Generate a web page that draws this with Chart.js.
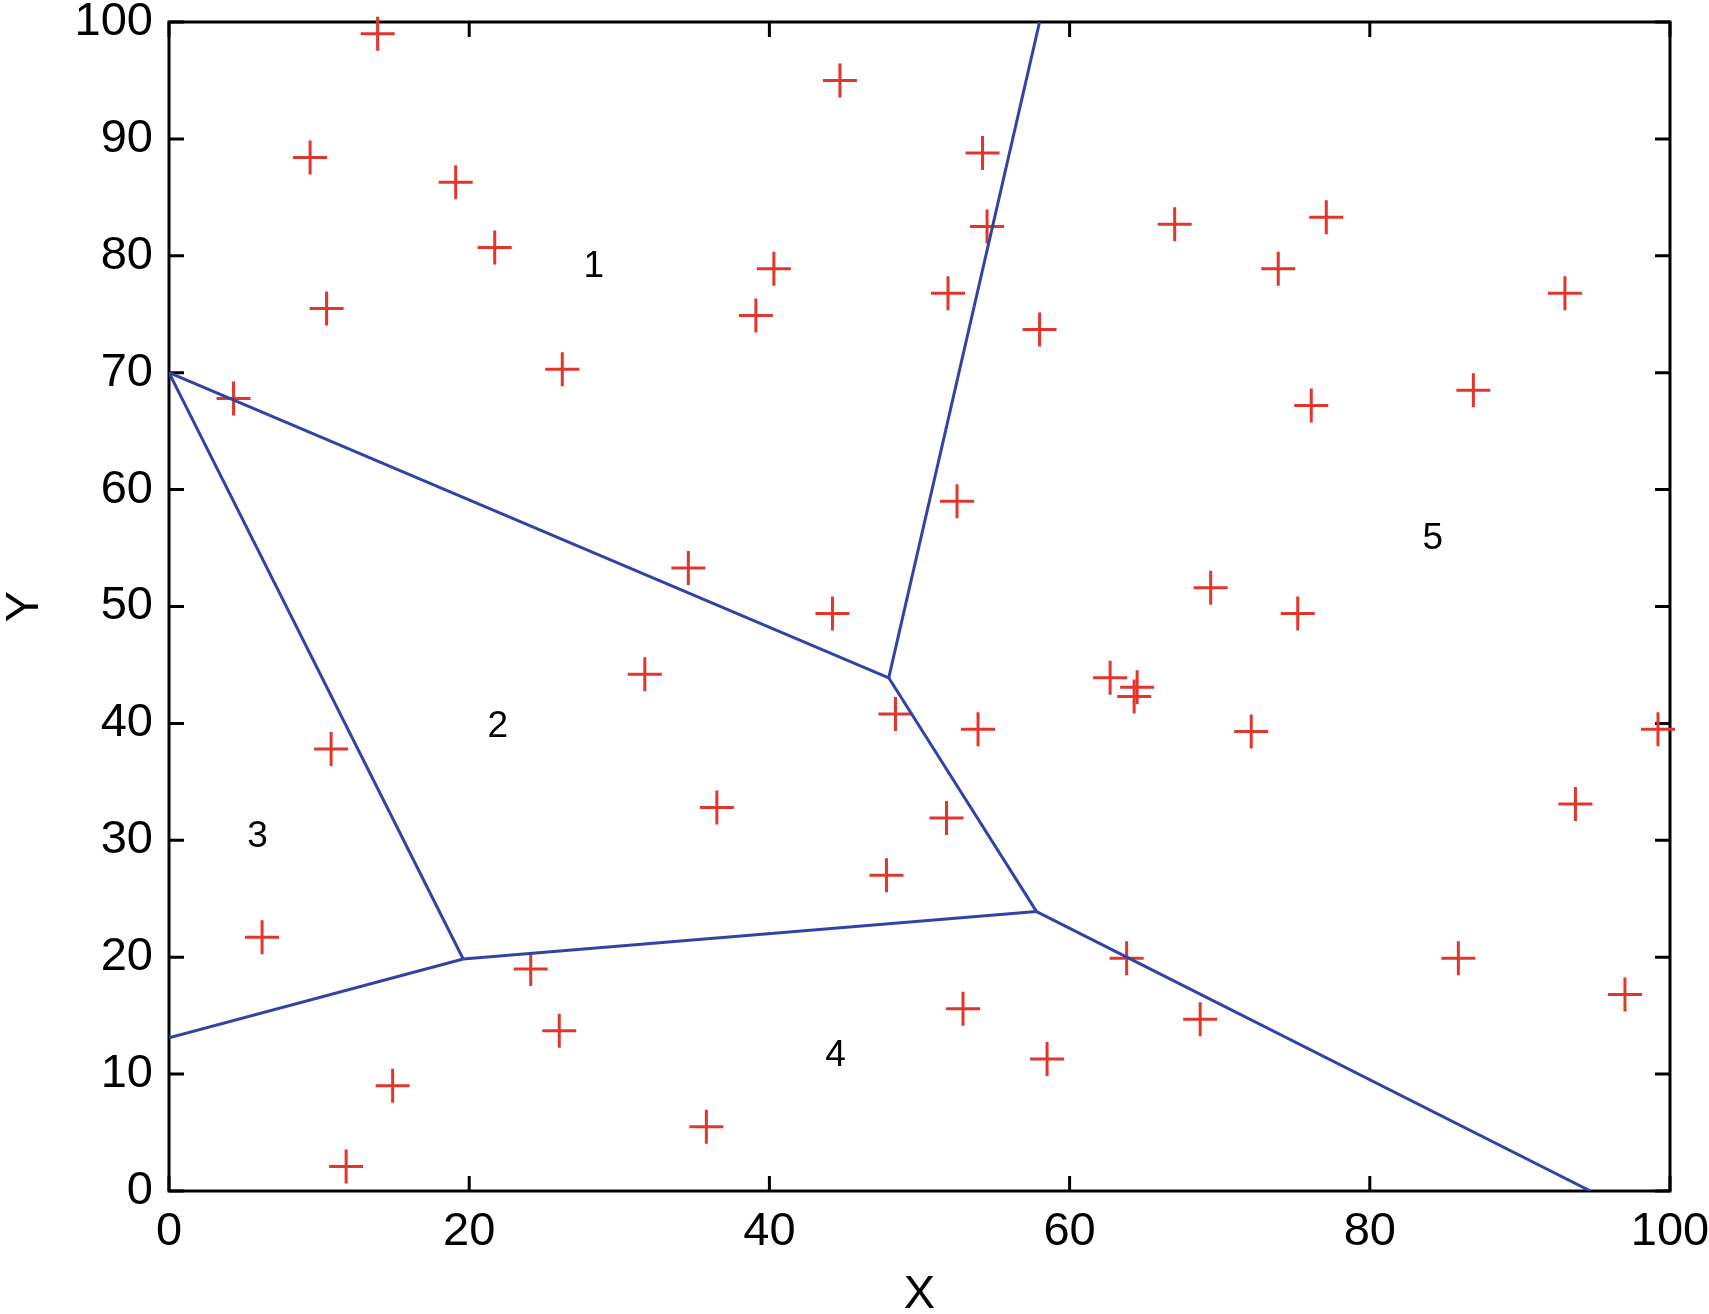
<!DOCTYPE html>
<html>
<head>
<meta charset="utf-8">
<script src="https://cdn.jsdelivr.net/npm/chart.js@4"></script>
<style>
    html, body { margin: 0; padding: 0; background: #fff; }
    #wrap { width: 1709px; height: 1314px; }
</style>
</head>
<body>
<div id="wrap"><canvas id="chart" width="1709" height="1314"></canvas></div>
<script>
// generator points (red crosses)
const pointX = [13.9, 9.4, 19.1, 21.7, 10.5, 26.2, 4.3, 44.7, 40.3, 39.1,
    54.2, 54.5, 51.9, 58.0, 52.5, 34.6, 44.2, 31.7, 48.4, 53.9,
    36.5, 51.8, 47.8, 10.8, 6.2, 24.1, 26.0, 14.9, 11.8, 35.8,
    52.9, 58.5, 63.8, 68.7, 67.0, 77.1, 73.9, 93.0, 76.1, 86.9,
    69.4, 75.2, 62.7, 64.5, 64.3, 72.1, 99.2, 93.7, 85.9, 97.0];
const pointY = [99.0, 88.4, 86.3, 80.7, 75.5, 70.3, 67.8, 95.0, 78.9, 74.9,
    88.8, 82.5, 76.8, 73.7, 59.0, 53.3, 49.4, 44.2, 40.8, 39.5,
    32.8, 31.9, 27.0, 37.8, 21.7, 19.0, 13.7, 9.0, 2.1, 5.5,
    15.6, 11.3, 19.9, 14.7, 82.7, 83.3, 78.9, 76.8, 67.2, 68.5,
    51.6, 49.4, 43.9, 43.1, 42.3, 39.3, 39.5, 33.1, 19.9, 16.8];

// cell borders (blue), one entry per segment
const edgeX1 = [0, 0, 0, 19.6, 47.95, 47.95, 57.8];
const edgeY1 = [70.0, 70.0, 13.1, 19.85, 43.9, 43.9, 23.9];
const edgeX2 = [47.95, 19.6, 19.6, 57.8, 57.8, 58.0, 94.7];
const edgeY2 = [43.9, 19.85, 19.85, 23.9, 23.9, 100, 0];

// cell numbers
const cellText = ['1', '2', '3', '4', '5'];
const cellX = [28.3, 21.9, 5.9, 44.4, 84.2];
const cellY = [79.1, 39.7, 30.3, 11.6, 55.8];

const xTicks = [0, 20, 40, 60, 80, 100];
const yTicks = [0, 10, 20, 30, 40, 50, 60, 70, 80, 90, 100];

const FONT = '"Liberation Sans", Arial, sans-serif';

function buildDatasets() {
    let sets = [];
    sets.push({
        label: 'points',
        data: pointX.map((x, i) => ({ x: x, y: pointY[i] })),
        pointStyle: 'cross',
        pointRadius: 17,
        pointHoverRadius: 17,
        borderColor: '#e3352c',
        pointBorderWidth: 3,
        showLine: false,
        clip: false,
        order: 1
    });
    for (let i = 0; i < edgeX1.length; i++) {
        sets.push({
            label: 'edge' + i,
            data: [{ x: edgeX1[i], y: edgeY1[i] }, { x: edgeX2[i], y: edgeY2[i] }],
            showLine: true,
            pointRadius: 0,
            borderColor: '#3343a3',
            borderWidth: 3,
            order: 0
        });
    }
    return sets;
}

// box round the plot with inward ticks, plus the cell numbers
const framePlugin = {
    id: 'frame',
    beforeDatasetsDraw(chart) {
        const ctx = chart.ctx;
        const a = chart.chartArea;
        const xs = chart.scales.x;
        const ys = chart.scales.y;
        const tl = 15;
        ctx.save();
        ctx.strokeStyle = '#000';
        ctx.lineWidth = 3;
        ctx.strokeRect(a.left, a.top, a.right - a.left, a.bottom - a.top);
        ctx.beginPath();
        for (let v of xTicks) {
            let px = xs.getPixelForValue(v);
            ctx.moveTo(px, a.bottom); ctx.lineTo(px, a.bottom - tl);
            ctx.moveTo(px, a.top); ctx.lineTo(px, a.top + tl);
        }
        for (let v of yTicks) {
            let py = ys.getPixelForValue(v);
            ctx.moveTo(a.left, py); ctx.lineTo(a.left + tl, py);
            ctx.moveTo(a.right, py); ctx.lineTo(a.right - tl, py);
        }
        ctx.stroke();

        ctx.fillStyle = '#000';
        ctx.font = '37px ' + FONT;
        ctx.textAlign = 'center';
        ctx.textBaseline = 'middle';
        for (let i = 0; i < cellText.length; i++) {
            ctx.fillText(cellText[i], xs.getPixelForValue(cellX[i]), ys.getPixelForValue(cellY[i]));
        }
        ctx.restore();
    }
};

function noPadding(scale) {
    scale.paddingTop = 0;
    scale.paddingBottom = 0;
    scale.paddingLeft = 0;
    scale.paddingRight = 0;
}

const config = {
    type: 'scatter',
    data: { datasets: buildDatasets() },
    options: {
        responsive: false,
        animation: false,
        layout: { padding: { left: 0, right: 39, top: 22, bottom: 0 } },
        plugins: {
            legend: { display: false },
            tooltip: { enabled: false }
        },
        scales: {
            x: {
                type: 'linear',
                position: 'bottom',
                min: 0,
                max: 100,
                afterBuildTicks: (s) => { s.ticks = xTicks.map(v => ({ value: v })); },
                afterFit: (s) => { s.height = 123; noPadding(s); },
                grid: { display: false, drawTicks: false },
                border: { display: false },
                ticks: {
                    color: '#000',
                    font: { family: FONT, size: 47, lineHeight: 1 },
                    padding: 18,
                    autoSkip: false,
                    maxRotation: 0
                },
                title: {
                    display: true,
                    text: 'X',
                    color: '#000',
                    font: { family: FONT, size: 47, lineHeight: 1 },
                    padding: { top: 0, bottom: -5 }
                }
            },
            y: {
                type: 'linear',
                position: 'left',
                min: 0,
                max: 100,
                afterBuildTicks: (s) => { s.ticks = yTicks.map(v => ({ value: v })); },
                afterFit: (s) => { s.width = 169; noPadding(s); },
                grid: { display: false, drawTicks: false },
                border: { display: false },
                ticks: {
                    color: '#000',
                    font: { family: FONT, size: 47, lineHeight: 1 },
                    padding: 16,
                    autoSkip: false
                },
                title: {
                    display: true,
                    text: 'Y',
                    color: '#000',
                    font: { family: FONT, size: 47, lineHeight: 1 },
                    padding: { top: 2, bottom: 0 }
                }
            }
        }
    },
    plugins: [framePlugin]
};

new Chart(document.getElementById('chart'), config);
</script>
</body>
</html>
